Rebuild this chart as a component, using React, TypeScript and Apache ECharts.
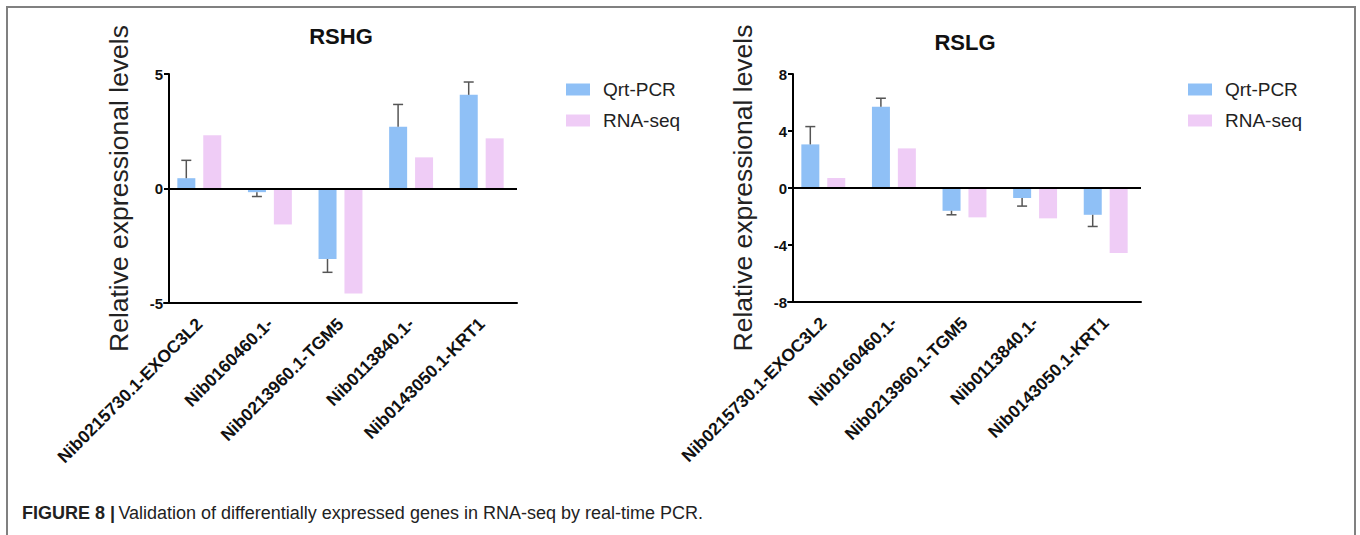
import React, { useEffect, useRef } from "react";
import * as echarts from "echarts";

const categories = [
  "Nib0215730.1-EXOC3L2",
  "Nib0160460.1-",
  "Nib0213960.1-TGM5",
  "Nib0113840.1-",
  "Nib0143050.1-KRT1",
];
const seriesNames = ["Qrt-PCR", "RNA-seq"];

const rshgQpcr = [0.45, -0.16, -3.08, 2.7, 4.09];
const rshgQpcrErr = [0.78, 0.19, 0.58, 0.97, 0.56];
const rshgRnaSeq = [2.33, -1.57, -4.58, 1.36, 2.19];

const rslgQpcr = [3.06, 5.71, -1.6, -0.7, -1.88];
const rslgQpcrErr = [1.25, 0.59, 0.28, 0.57, 0.82];
const rslgRnaSeq = [0.7, 2.78, -2.06, -2.13, -4.57];

const titles = ["RSHG", "RSLG"];
const yName = "Relative expressional levels";
const caption = "Validation of differentially expressed genes in RNA-seq by real-time PCR.";

const FONT = "'Liberation Sans', Arial, Helvetica, sans-serif";
const BLUE = "#8FC0F6";
const PINK = "#EFCCF6";
const BAR_W = 18;
const BAR_OFFSET = -13;

function errorSeries(axisIndex: number, values: number[], errs: number[]) {
  return {
    type: "custom",
    name: "err" + axisIndex,
    xAxisIndex: axisIndex,
    yAxisIndex: axisIndex,
    z: 4,
    silent: true,
    encode: { x: 0, y: 1 },
    data: values.map((v, i) => [i, v, errs[i]]),
    renderItem: (params: any, api: any) => {
      const i = api.value(0);
      const v = api.value(1);
      const e = api.value(2);
      const end = v >= 0 ? v + e : v - e;
      const p0 = api.coord([i, v]);
      const p1 = api.coord([i, end]);
      const x = p0[0] + BAR_OFFSET;
      const st = { stroke: "#555", lineWidth: 1.5 };
      return {
        type: "group",
        children: [
          { type: "line", shape: { x1: x, y1: p0[1], x2: x, y2: p1[1] }, style: st },
          { type: "line", shape: { x1: x - 5, y1: p1[1], x2: x + 5, y2: p1[1] }, style: st },
        ],
      };
    },
  };
}

function barSeries(name: string, axisIndex: number, values: number[], color: string, zeroLine: boolean) {
  const s: any = {
    type: "bar",
    name,
    xAxisIndex: axisIndex,
    yAxisIndex: axisIndex,
    barWidth: BAR_W,
    barGap: "44%",
    itemStyle: { color },
    data: values,
  };
  if (zeroLine) {
    s.markLine = {
      silent: true,
      symbol: ["none", "none"],
      label: { show: false },
      lineStyle: { color: "#000", width: 2, type: "solid" },
      data: [{ yAxis: 0 }],
      z: 6,
    };
  }
  return s;
}

function xAxis(gridIndex: number) {
  return {
    type: "category",
    gridIndex,
    data: categories,
    position: "bottom",
    axisLine: { onZero: false, lineStyle: { color: "#000", width: 2 } },
    axisTick: { alignWithLabel: true, length: 7, lineStyle: { color: "#000", width: 2 } },
    axisLabel: {
      rotate: 45,
      interval: 0,
      margin: 18,
      color: "#111",
      fontFamily: FONT,
      fontWeight: "bold",
      fontSize: 17.5,
    },
  };
}

function yAxis(gridIndex: number, min: number, max: number, interval: number) {
  return {
    type: "value",
    gridIndex,
    min,
    max,
    interval,
    offset: -5,
    name: yName,
    nameLocation: "middle",
    nameGap: 37,
    nameTextStyle: { fontFamily: FONT, fontSize: 26.5, color: "#222" },
    splitLine: { show: false },
    axisLine: { show: true, lineStyle: { color: "#000", width: 2 } },
    axisTick: { show: true, length: 5, lineStyle: { color: "#000", width: 2 } },
    axisLabel: { color: "#111", fontFamily: FONT, fontWeight: "bold", fontSize: 15, margin: 6 },
  };
}

function legend(left: number) {
  return {
    data: seriesNames,
    orient: "vertical",
    left,
    top: 75,
    itemWidth: 24,
    itemHeight: 12,
    itemGap: 12,
    icon: "rect",
    textStyle: { fontFamily: FONT, fontSize: 19, color: "#222", padding: [0, 0, 0, 8] },
  };
}

export default function App() {
  const ref = useRef<HTMLDivElement>(null);
  useEffect(() => {
    if (!ref.current) return;
    const chart = echarts.init(ref.current, null, { renderer: "svg" });
    chart.setOption({
      animation: false,
      backgroundColor: "#fff",
      grid: [
        { left: 164, top: 74, width: 353, height: 229 },
        { left: 788, top: 74, width: 353, height: 228 },
      ],
      legend: [legend(561), legend(1183)],
      xAxis: [xAxis(0), xAxis(1)],
      yAxis: [yAxis(0, -5, 5, 5), yAxis(1, -8, 8, 4)],
      series: [
        barSeries(seriesNames[0], 0, rshgQpcr, BLUE, true),
        barSeries(seriesNames[1], 0, rshgRnaSeq, PINK, false),
        errorSeries(0, rshgQpcr, rshgQpcrErr),
        barSeries(seriesNames[0], 1, rslgQpcr, BLUE, true),
        barSeries(seriesNames[1], 1, rslgRnaSeq, PINK, false),
        errorSeries(1, rslgQpcr, rslgQpcrErr),
      ],
      graphic: [
        {
          type: "rect",
          silent: true,
          shape: { x: 7, y: 7, width: 1348, height: 560 },
          style: { fill: "none", stroke: "#808080", lineWidth: 2 },
        },
        {
          type: "text",
          x: 341,
          y: 36,
          style: {
            text: titles[0],
            textAlign: "center",
            textVerticalAlign: "middle",
            font: `bold 22px ${FONT}`,
            fill: "#111",
          },
        },
        {
          type: "text",
          x: 965,
          y: 42,
          style: {
            text: titles[1],
            textAlign: "center",
            textVerticalAlign: "middle",
            font: `bold 22px ${FONT}`,
            fill: "#111",
          },
        },
        {
          type: "text",
          x: 22,
          y: 522,
          style: {
            text: "{b|FIGURE 8 |} {n|" + caption + "}",
            textVerticalAlign: "bottom",
            rich: {
              b: { fontFamily: FONT, fontWeight: "bold", fontSize: 18, fill: "#222" },
              n: { fontFamily: FONT, fontSize: 18, fill: "#222" },
            },
          },
        },
      ],
    });
    return () => chart.dispose();
  }, []);
  return (
    <div
      ref={ref}
      style={{ position: "fixed", left: 0, top: 0, width: 1360, height: 535 }}
    />
  );
}
